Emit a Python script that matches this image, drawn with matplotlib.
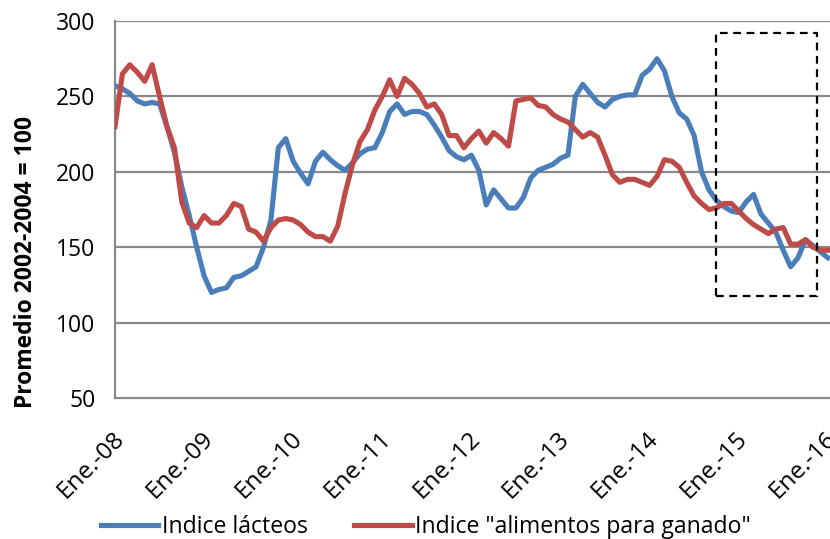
import numpy as np
import matplotlib
matplotlib.use("Agg")
import matplotlib.pyplot as plt
from matplotlib.patches import Rectangle
from matplotlib.transforms import ScaledTranslation

plt.rcParams['font.family'] = ['Open Sans', 'DejaVu Sans']

# Monthly data, Jan 2008 .. Jan 2016 (97 months)
lacteos = [257, 255, 252, 247, 245, 246, 245, 230, 213, 190, 171, 150,
           131, 120, 122, 123, 130, 131, 134, 137, 150, 168, 216, 222,
           207, 199, 192, 207, 213, 208, 204, 201, 206, 212, 215, 216,
           226, 240, 245, 238, 240, 240, 238, 231, 223, 214, 210, 208,
           211, 201, 178, 188, 182, 176, 176, 183, 196, 201, 203, 205,
           209, 211, 250, 258, 252, 246, 243, 248, 250, 251, 251, 264,
           268, 275, 267, 250, 239, 235, 224, 200, 188, 181, 177, 174,
           173, 180, 185, 172, 166, 160, 148, 137, 143, 155, 151, 147,
           143]
alimentos = [230, 265, 271, 266, 260, 271, 250, 230, 216, 180, 166, 163,
             171, 166, 166, 171, 179, 177, 162, 160, 154, 163, 168, 169,
             168, 165, 160, 157, 157, 154, 164, 186, 205, 220, 228, 241,
             250, 261, 250, 262, 258, 252, 243, 245, 238, 224, 224, 216,
             222, 227, 219, 226, 222, 217, 247, 248, 249, 244, 243, 238,
             235, 233, 228, 223, 226, 223, 211, 198, 193, 195, 195, 193,
             191, 197, 208, 207, 203, 193, 184, 179, 175, 176, 179, 179,
             174, 169, 165, 162, 159, 162, 163, 152, 152, 155, 150, 148,
             148]
tick_labels = ["Ene.-08", "Ene.-09", "Ene.-10", "Ene.-11", "Ene.-12",
               "Ene.-13", "Ene.-14", "Ene.-15", "Ene.-16"]
yticks = [50, 100, 150, 200, 250, 300]
series_names = ["Indice lácteos", 'Indice "alimentos para ganado"']

x = np.arange(len(lacteos))

fig = plt.figure(figsize=(8.3, 5.39), dpi=100)
ax = fig.add_axes([115/830, 1-398/539, 1-115/830, (398-21)/539])

grid_c = "#898989"
for yv in yticks[1:]:
    ax.axhline(yv, color=grid_c, lw=1.6, zorder=1)

ax.plot(x, lacteos, color="#4A7EBB", lw=3.7, solid_joinstyle='round', zorder=3, label=series_names[0])
ax.plot(x, alimentos, color="#BE4B48", lw=3.7, solid_joinstyle='round', zorder=3, label=series_names[1])

ax.add_patch(Rectangle((81.0, 117.5), 13.6, 174.5, fill=False, ls=(0, (3.5, 2.5)),
                       lw=1.6, ec="black", zorder=4))

ax.set_xlim(0, 96.3)
ax.set_ylim(50, 300)
ax.set_yticks(yticks)
ax.set_xticks(np.arange(0, 97, 12))
ax.set_xticklabels(tick_labels, rotation=45, ha='right', va='top', rotation_mode='anchor')
ax.tick_params(axis='y', length=0, labelsize=16.5, colors="black", pad=14)
ax.tick_params(axis='x', length=0, labelsize=17.5, colors="black", pad=21)
shift = ScaledTranslation(-3/100, 0, fig.dpi_scale_trans)
for lbl in ax.get_xticklabels():
    lbl.set_transform(lbl.get_transform() + shift)

for s in ['top', 'right']:
    ax.spines[s].set_visible(False)
for s in ['left', 'bottom']:
    ax.spines[s].set_color(grid_c)
    ax.spines[s].set_linewidth(1.6)

ax.set_ylabel("Promedio 2002-2004 = 100", fontsize=16.5, fontweight='bold')
ax.yaxis.set_label_coords(-0.107, 0.36)

fig.legend(loc='lower center', bbox_to_anchor=(0.513, -0.038), ncol=2, frameon=False,
           fontsize=16.6, handlelength=2.5, handletextpad=0.15, columnspacing=2.0)

fig.savefig("out.png", dpi=100)
